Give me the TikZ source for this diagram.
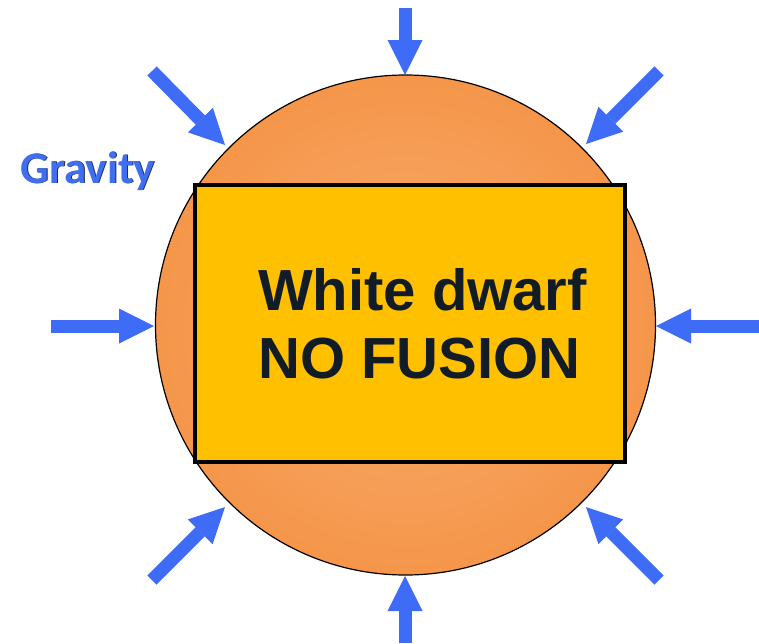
\documentclass[tikz,border=0pt]{standalone}
\usepackage{fontspec}
\setmainfont{Liberation Sans}
\newfontfamily\gravfont{Carlito}
\usetikzlibrary{arrows.meta}
\definecolor{arrowblue}{RGB}{62,108,247}
\definecolor{starorange}{RGB}{245,150,74}
\definecolor{starlight}{RGB}{248,172,110}
\definecolor{boxgold}{RGB}{255,192,0}
\definecolor{textdark}{RGB}{18,28,38}
\definecolor{gravblue}{RGB}{64,110,240}
\definecolor{gravedge}{RGB}{30,45,90}
\tikzset{
  push/.style={arrowblue, line width=13pt,
    -{Triangle[width=35pt,length=35pt,line width=0pt]}},
  star/.style={circle, draw=black, line width=1.2pt, minimum size=500pt, inner sep=0pt,
    inner color=starlight, outer color=starorange},
  core/.style={draw=black, line width=4pt, fill=boxgold},
  bigtext/.style={font=\bfseries\fontsize{58}{68}\selectfont, text=textdark, align=left, inner sep=0pt},
  gravtext/.style={font=\gravfont\bfseries\fontsize{45}{50}\selectfont, inner sep=0pt, anchor=base}
}
\begin{document}
\begin{tikzpicture}[x=1pt,y=-1pt]
\useasboundingbox[fill=white] (0,0) rectangle (759,643);
\node[star] (sun) at (405.5,325) {};
\draw[core] (195,185) rectangle (625,462);
\node[bigtext, anchor=base west] (label) at (258,378) {White dwarf\\NO FUSION};
\node[gravtext, text=gravedge] at (88.8,183.8) {Gravity};
\node[gravtext, text=gravblue] (grav) at (88,183) {Gravity};
% arrow tails
\coordinate (tN) at (405,8);
\coordinate (tS) at (405,643);
\coordinate (tW) at (51,326);
\coordinate (tE) at (759,326);
\coordinate (tNW) at (152,71);
\coordinate (tNE) at (659,71);
\coordinate (tSW) at (152,580);
\coordinate (tSE) at (659,580);
% arrow tips on the star
\coordinate (hN) at (405,75);
\coordinate (hS) at (405,576);
\coordinate (hW) at (154,326);
\coordinate (hE) at (656,326);
\coordinate (hNW) at (225,145);
\coordinate (hNE) at (586,144);
\coordinate (hSW) at (225,507);
\coordinate (hSE) at (586,507);
\foreach \d in {N,S,W,E,NW,NE,SW,SE}{
  \draw[push] (t\d) -- (h\d);
}
\end{tikzpicture}
\end{document}
